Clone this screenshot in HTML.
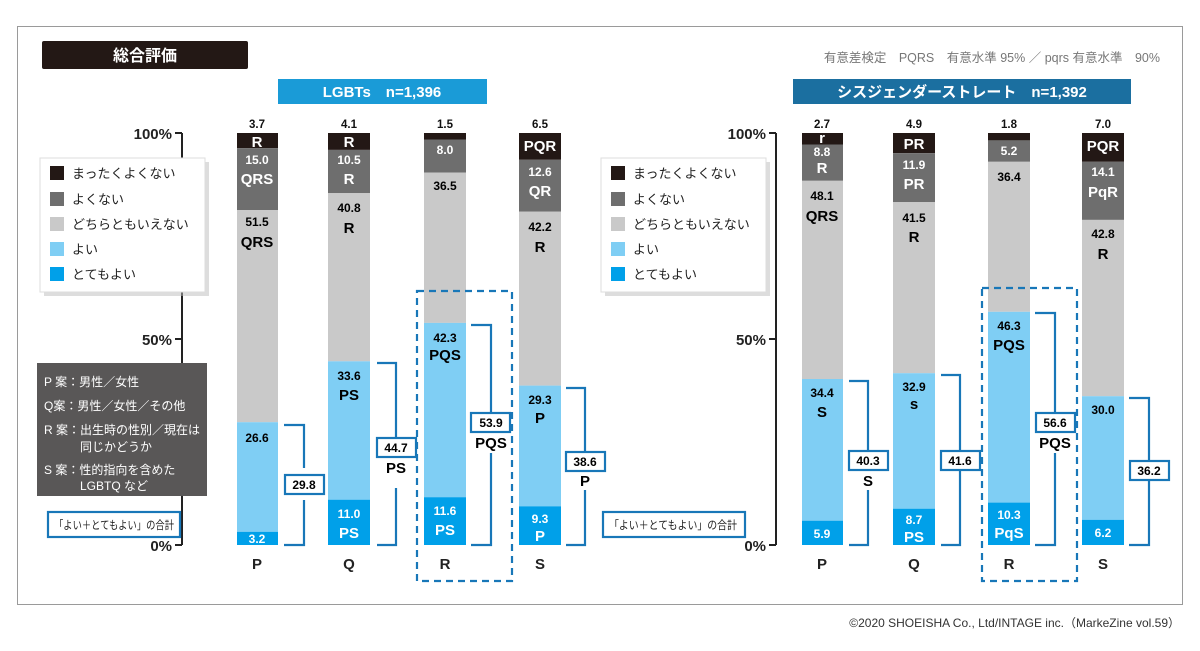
<!DOCTYPE html>
<html><head><meta charset="utf-8"><style>
body{margin:0;background:#fff;width:1200px;height:651px;overflow:hidden}
svg{display:block;font-family:"Liberation Sans","Noto Sans CJK JP",sans-serif}
.n{font-size:12px;font-weight:bold;text-anchor:middle}
.l{font-size:15px;font-weight:bold;text-anchor:middle}
.w{fill:#fff}
.t{font-size:11.5px;font-weight:bold;text-anchor:middle;fill:#111}
.lg{font-size:13px;fill:#222}
.br{fill:none;stroke:#1877b8;stroke-width:2.2}
.bx{fill:#fff;stroke:#1877b8;stroke-width:2.2}
.cat{font-size:15px;font-weight:bold;text-anchor:middle;fill:#222}
</style></head><body>
<svg width="1200" height="651" viewBox="0 0 1200 651">
<rect x="17.5" y="26.5" width="1165" height="578" fill="#fff" stroke="#9a9a9a"/>
<rect x="42" y="41" width="206" height="28" fill="#231815" rx="2"/>
<text x="145" y="61" fill="#fff" font-size="16" font-weight="bold" text-anchor="middle">総合評価</text>
<text x="1160" y="62" font-size="12.5" fill="#777" text-anchor="end">有意差検定　PQRS　有意水準 95% ／ pqrs 有意水準　90%</text>
<rect x="278" y="79" width="209" height="25" fill="#1a9bd7"/>
<text x="382" y="97" fill="#fff" font-size="15" font-weight="bold" text-anchor="middle">LGBTs　n=1,396</text>
<rect x="793" y="79" width="338" height="25" fill="#1b6fa0"/>
<text x="962" y="97" fill="#fff" font-size="15" font-weight="bold" text-anchor="middle">シスジェンダーストレート　n=1,392</text>

<g stroke="#222" stroke-width="2" fill="none">
<path d="M182 133V545M175 133H182M175 339H182M175 545H182"/>
<path d="M776 133V545M769 133H776M769 339H776M769 545H776"/>
</g>
<g font-size="15" font-weight="bold" text-anchor="end" fill="#222">
<text x="172" y="139">100%</text><text x="172" y="345">50%</text><text x="172" y="551">0%</text>
<text x="766" y="139">100%</text><text x="766" y="345">50%</text><text x="766" y="551">0%</text>
</g>

<g>
<rect x="44" y="162" width="165" height="134" fill="#bbb" opacity="0.5"/>
<rect x="40" y="158" width="165" height="134" fill="#fff" stroke="#ddd"/>
<rect x="50" y="166" width="14" height="14" fill="#231815"/><text class="lg" x="72" y="178">まったくよくない</text>
<rect x="50" y="192" width="14" height="14" fill="#6e6e6e"/><text class="lg" x="72" y="204">よくない</text>
<rect x="50" y="217" width="14" height="14" fill="#c9c9c9"/><text class="lg" x="72" y="229">どちらともいえない</text>
<rect x="50" y="242" width="14" height="14" fill="#7fcef4"/><text class="lg" x="72" y="254">よい</text>
<rect x="50" y="267" width="14" height="14" fill="#00a0e9"/><text class="lg" x="72" y="279">とてもよい</text>
</g>
<g transform="translate(561,0)">
<rect x="44" y="162" width="165" height="134" fill="#bbb" opacity="0.5"/>
<rect x="40" y="158" width="165" height="134" fill="#fff" stroke="#ddd"/>
<rect x="50" y="166" width="14" height="14" fill="#231815"/><text class="lg" x="72" y="178">まったくよくない</text>
<rect x="50" y="192" width="14" height="14" fill="#6e6e6e"/><text class="lg" x="72" y="204">よくない</text>
<rect x="50" y="217" width="14" height="14" fill="#c9c9c9"/><text class="lg" x="72" y="229">どちらともいえない</text>
<rect x="50" y="242" width="14" height="14" fill="#7fcef4"/><text class="lg" x="72" y="254">よい</text>
<rect x="50" y="267" width="14" height="14" fill="#00a0e9"/><text class="lg" x="72" y="279">とてもよい</text>
</g>

<rect x="37" y="363" width="170" height="133" fill="#595757"/>
<g fill="#fff" font-size="12">
<text x="44" y="386">P 案：男性／女性</text>
<text x="44" y="410">Q案：男性／女性／その他</text>
<text x="44" y="434">R 案：出生時の性別／現在は</text>
<text x="80" y="451">同じかどうか</text>
<text x="44" y="474">S 案：性的指向を含めた</text>
<text x="80" y="490">LGBTQ など</text>
</g>
<rect x="48" y="512" width="132" height="25" class="bx"/>
<text x="54" y="529" font-size="11.5" fill="#222" textLength="120" lengthAdjust="spacingAndGlyphs">「よい＋とてもよい」の合計</text>
<rect x="603" y="512" width="142" height="25" class="bx"/>
<text x="609" y="529" font-size="11.5" fill="#222" textLength="128" lengthAdjust="spacingAndGlyphs">「よい＋とてもよい」の合計</text>

<g>
<rect x="237" y="133" width="41" height="15.2" fill="#231815"/>
<rect x="237" y="148.2" width="41" height="61.8" fill="#6e6e6e"/>
<rect x="237" y="210" width="41" height="212.2" fill="#c9c9c9"/>
<rect x="237" y="422.2" width="41" height="109.6" fill="#7fcef4"/>
<rect x="237" y="531.8" width="41" height="13.2" fill="#00a0e9"/>
<text class="t" x="257" y="128">3.7</text>
<text class="l w" x="257" y="147">R</text>
<text class="n w" x="257" y="164">15.0</text><text class="l w" x="257" y="184">QRS</text>
<text class="n" x="257" y="226">51.5</text><text class="l" x="257" y="247">QRS</text>
<text class="n" x="257" y="442">26.6</text>
<text class="n w" x="257" y="543">3.2</text>
<text class="cat" x="257" y="569">P</text>
</g>
<g>
<rect x="328" y="133" width="42" height="16.9" fill="#231815"/>
<rect x="328" y="149.9" width="42" height="43.3" fill="#6e6e6e"/>
<rect x="328" y="193.2" width="42" height="168.1" fill="#c9c9c9"/>
<rect x="328" y="361.3" width="42" height="138.4" fill="#7fcef4"/>
<rect x="328" y="499.7" width="42" height="45.3" fill="#00a0e9"/>
<text class="t" x="349" y="128">4.1</text>
<text class="l w" x="349" y="147">R</text>
<text class="n w" x="349" y="164">10.5</text><text class="l w" x="349" y="184">R</text>
<text class="n" x="349" y="212">40.8</text><text class="l" x="349" y="233">R</text>
<text class="n" x="349" y="380">33.6</text><text class="l" x="349" y="400">PS</text>
<text class="n w" x="349" y="518">11.0</text><text class="l w" x="349" y="538">PS</text>
<text class="cat" x="349" y="569">Q</text>
</g>
<g>
<rect x="424" y="133" width="42" height="6.5" fill="#231815"/>
<rect x="424" y="139.5" width="42" height="33" fill="#6e6e6e"/>
<rect x="424" y="172.5" width="42" height="150.4" fill="#c9c9c9"/>
<rect x="424" y="322.9" width="42" height="174.3" fill="#7fcef4"/>
<rect x="424" y="497.2" width="42" height="47.8" fill="#00a0e9"/>
<text class="t" x="445" y="128">1.5</text>
<text class="n w" x="445" y="154">8.0</text>
<text class="n" x="445" y="190">36.5</text>
<text class="n" x="445" y="342">42.3</text><text class="l" x="445" y="360">PQS</text>
<text class="n w" x="445" y="515">11.6</text><text class="l w" x="445" y="535">PS</text>
<text class="cat" x="445" y="569">R</text>
</g>
<g>
<rect x="519" y="133" width="42" height="26.8" fill="#231815"/>
<rect x="519" y="159.8" width="42" height="51.9" fill="#6e6e6e"/>
<rect x="519" y="211.7" width="42" height="173.9" fill="#c9c9c9"/>
<rect x="519" y="385.6" width="42" height="120.7" fill="#7fcef4"/>
<rect x="519" y="506.3" width="42" height="38.7" fill="#00a0e9"/>
<text class="t" x="540" y="128">6.5</text>
<text class="l w" x="540" y="151">PQR</text>
<text class="n w" x="540" y="176">12.6</text><text class="l w" x="540" y="196">QR</text>
<text class="n" x="540" y="231">42.2</text><text class="l" x="540" y="252">R</text>
<text class="n" x="540" y="404">29.3</text><text class="l" x="540" y="423">P</text>
<text class="n w" x="540" y="523">9.3</text><text class="l w" x="540" y="541">P</text>
<text class="cat" x="540" y="569">S</text>
</g>

<g>
<rect x="802" y="133" width="41" height="11.5" fill="#231815"/>
<rect x="802" y="144.5" width="41" height="36.3" fill="#6e6e6e"/>
<rect x="802" y="180.8" width="41" height="198.2" fill="#c9c9c9"/>
<rect x="802" y="379" width="41" height="141.7" fill="#7fcef4"/>
<rect x="802" y="520.7" width="41" height="24.3" fill="#00a0e9"/>
<text class="t" x="822" y="128">2.7</text>
<text class="l w" x="822" y="143" font-size="13">r</text>
<text class="n w" x="822" y="156">8.8</text><text class="l w" x="822" y="173">R</text>
<text class="n" x="822" y="200">48.1</text><text class="l" x="822" y="221">QRS</text>
<text class="n" x="822" y="397">34.4</text><text class="l" x="822" y="417">S</text>
<text class="n w" x="822" y="538">5.9</text>
<text class="cat" x="822" y="569">P</text>
</g>
<g>
<rect x="893" y="133" width="42" height="20.2" fill="#231815"/>
<rect x="893" y="153.2" width="42" height="49" fill="#6e6e6e"/>
<rect x="893" y="202.2" width="42" height="171" fill="#c9c9c9"/>
<rect x="893" y="373.2" width="42" height="135.5" fill="#7fcef4"/>
<rect x="893" y="508.7" width="42" height="36.3" fill="#00a0e9"/>
<text class="t" x="914" y="128">4.9</text>
<text class="l w" x="914" y="149">PR</text>
<text class="n w" x="914" y="169">11.9</text><text class="l w" x="914" y="189">PR</text>
<text class="n" x="914" y="222">41.5</text><text class="l" x="914" y="242">R</text>
<text class="n" x="914" y="391">32.9</text><text class="l" x="914" y="409" font-size="13">s</text>
<text class="n w" x="914" y="524">8.7</text><text class="l w" x="914" y="542">PS</text>
<text class="cat" x="914" y="569">Q</text>
</g>
<g>
<rect x="988" y="133" width="42" height="7.4" fill="#231815"/>
<rect x="988" y="140.4" width="42" height="21.4" fill="#6e6e6e"/>
<rect x="988" y="161.8" width="42" height="150" fill="#c9c9c9"/>
<rect x="988" y="311.8" width="42" height="190.8" fill="#7fcef4"/>
<rect x="988" y="502.6" width="42" height="42.4" fill="#00a0e9"/>
<text class="t" x="1009" y="128">1.8</text>
<text class="n w" x="1009" y="155">5.2</text>
<text class="n" x="1009" y="181">36.4</text>
<text class="n" x="1009" y="330">46.3</text><text class="l" x="1009" y="350">PQS</text>
<text class="n w" x="1009" y="519">10.3</text><text class="l w" x="1009" y="538">PqS</text>
<text class="cat" x="1009" y="569">R</text>
</g>
<g>
<rect x="1082" y="133" width="42" height="28.8" fill="#231815"/>
<rect x="1082" y="161.8" width="42" height="58.1" fill="#6e6e6e"/>
<rect x="1082" y="219.9" width="42" height="176.3" fill="#c9c9c9"/>
<rect x="1082" y="396.2" width="42" height="123.6" fill="#7fcef4"/>
<rect x="1082" y="519.8" width="42" height="25.2" fill="#00a0e9"/>
<text class="t" x="1103" y="128">7.0</text>
<text class="l w" x="1103" y="151">PQR</text>
<text class="n w" x="1103" y="176">14.1</text><text class="l w" x="1103" y="197">PqR</text>
<text class="n" x="1103" y="238">42.8</text><text class="l" x="1103" y="259">R</text>
<text class="n" x="1103" y="414">30.0</text>
<text class="n w" x="1103" y="537">6.2</text>
<text class="cat" x="1103" y="569">S</text>
</g>

<g class="br">
<path d="M284 425H304V468M304 500V545H284"/>
<path d="M377 363H396V437M396 488V545H377"/>
<path d="M471 325H491V412M491 453V545H471"/>
<path d="M566 388H585V451M585 490V545H566"/>
<path d="M849 381H868V450M868 490V545H849"/>
<path d="M941 375H960V450M960 470V545H941"/>
<path d="M1035 313H1055V412M1055 453V545H1035"/>
<path d="M1129 398H1149V460M1149 481V545H1129"/>
</g>
<g>
<rect x="285" y="475" width="39" height="19" class="bx"/><text class="n" x="304" y="489">29.8</text>
<rect x="377" y="438" width="39" height="19" class="bx"/><text class="n" x="396" y="452">44.7</text><text class="l" x="396" y="473">PS</text>
<rect x="471" y="413" width="39" height="19" class="bx"/><text class="n" x="491" y="427">53.9</text><text class="l" x="491" y="448">PQS</text>
<rect x="566" y="452" width="39" height="19" class="bx"/><text class="n" x="585" y="466">38.6</text><text class="l" x="585" y="486">P</text>
<rect x="849" y="451" width="39" height="19" class="bx"/><text class="n" x="868" y="465">40.3</text><text class="l" x="868" y="486">S</text>
<rect x="941" y="451" width="39" height="19" class="bx"/><text class="n" x="960" y="465">41.6</text>
<rect x="1036" y="413" width="39" height="19" class="bx"/><text class="n" x="1055" y="427">56.6</text><text class="l" x="1055" y="448">PQS</text>
<rect x="1130" y="461" width="39" height="19" class="bx"/><text class="n" x="1149" y="475">36.2</text>
</g>

<g fill="none" stroke="#1877b8" stroke-width="2.2" stroke-dasharray="7 5">
<rect x="417" y="291" width="95" height="290"/>
<rect x="982" y="288" width="95" height="293"/>
</g>

<text x="1180" y="627" font-size="12" text-anchor="end" fill="#333">©2020 SHOEISHA Co., Ltd/INTAGE inc.（MarkeZine vol.59）</text>
</svg>
</body></html>
